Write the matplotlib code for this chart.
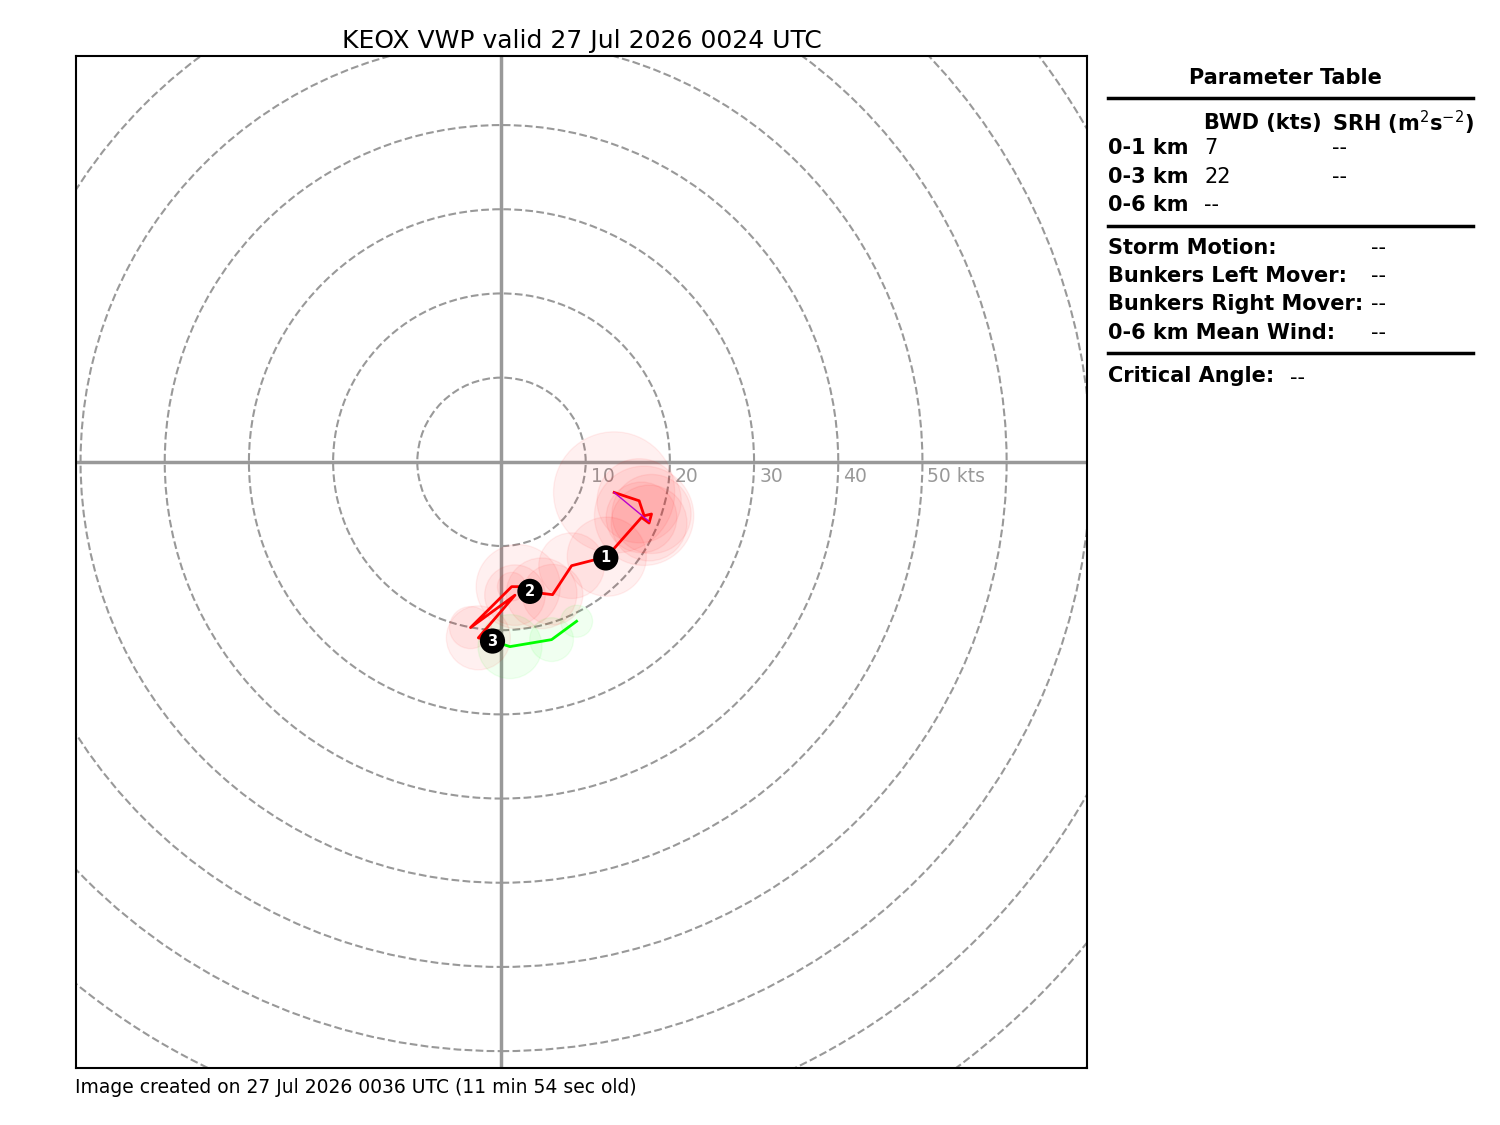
import numpy as np
import matplotlib
matplotlib.use('Agg')
from matplotlib import pyplot as plt
from matplotlib.patches import Circle
from matplotlib.lines import Line2D

# VWP winds (kts), lowest level first, and rms error of each level
red_u = [13.38, 16.35, 16.94, 17.82, 17.53, 16.63, 12.51, 8.33, 6.07, 4.77, 1.99, 1.21, -3.68, 1.60, -2.75, -1.07]
red_v = [-3.64, -4.63, -6.41, -6.20, -7.27, -6.61, -11.27, -12.34, -15.78, -15.62, -14.83, -14.83, -19.69, -15.84, -20.91, -21.29]
red_err = [7.2, 5.0, 5.9, 4.7, 4.5, 4.2, 4.7, 3.9, 3.6, 4.2, 5.0, 1.7, 2.5, 3.6, 3.8, 0.0]
green_u = [-1.07, 1.01, 5.95, 8.92]
green_v = [-21.29, -21.95, -21.12, -18.94]
green_err = [0.0, 3.8, 2.6, 1.9]

# surface-ish segment drawn in magenta
mag_u = [13.38, 17.53]
mag_v = [-3.64, -7.08]

# height markers (km)
mark_hgt = [1, 2, 3]
mark_u = [12.39, 3.38, -1.07]
mark_v = [-11.42, -15.39, -21.29]

rings = list(range(10, 130, 10))
ring_labels = ['10', '20', '30', '40', '50 kts']

title = 'KEOX VWP valid 27 Jul 2026 0024 UTC'
footer = 'Image created on 27 Jul 2026 0036 UTC (11 min 54 sec old)'

bwd_rows = ['0-1 km', '0-3 km', '0-6 km']
bwd_vals = ['7', '22', '--']
srh_vals = ['--', '--', '']
motion_rows = ['Storm Motion:', 'Bunkers Left Mover:', 'Bunkers Right Mover:', '0-6 km Mean Wind:']
motion_vals = ['--', '--', '--', '--']
crit_angle = '--'


def main():
	fig = plt.figure(figsize=(15, 11.25), dpi=100)
	ax = fig.add_axes([0.05, 0.0507, 0.6753, 0.8995])

	#range rings and axes
	for r in rings:
		ax.add_patch(Circle((0, 0), r, fill=False, ec='#999999', ls='--', lw=1.5, zorder=1))
	for r, lab in zip(rings, ring_labels):
		ax.text(r + 0.6, -0.6, lab, color='#999999', fontsize=13.5, ha='left', va='top', zorder=2)
	ax.axhline(0, color='#999999', lw=2.5, zorder=1)
	ax.axvline(0, color='#999999', lw=2.5, zorder=1)

	#error circles
	for u, v, e in zip(red_u, red_v, red_err):
		if e > 0:
			ax.add_patch(Circle((u, v), e, color='r', alpha=0.06, zorder=3))
	for u, v, e in zip(green_u, green_v, green_err):
		if e > 0:
			ax.add_patch(Circle((u, v), e, color='#00ff00', alpha=0.06, zorder=3))

	#hodograph
	ax.plot(red_u, red_v, '-', color='r', lw=2, zorder=4)
	ax.plot(green_u, green_v, '-', color='#00ff00', lw=2, zorder=4)
	ax.plot(mag_u, mag_v, '-', color='#bb00cc', lw=1, zorder=5)

	for h, u, v in zip(mark_hgt, mark_u, mark_v):
		ax.text(u, v, str(h), ha='center', va='center', color='w', fontsize=10.5, weight='bold', zorder=6,
			bbox=dict(facecolor='k', edgecolor='none', boxstyle='circle,pad=0.35'))

	ax.set_xlim(-50.6, 69.6)
	ax.set_ylim(-72.0, 48.2)
	ax.set_aspect('equal')
	ax.set_xticks([])
	ax.set_yticks([])
	for s in ax.spines.values():
		s.set_linewidth(1.5)
	ax.set_title(title, fontsize=18, pad=6)

	fig.text(0.05, 0.033, footer, fontsize=13.5, ha='left', va='center')

	#parameter table
	fs = 15
	x0 = 0.7387
	fig.text(0.8567, 0.9307, 'Parameter Table', fontsize=fs, weight='bold', ha='center', va='center')
	for y in [0.9129, 0.7991, 0.6862]:
		fig.add_artist(Line2D([x0, 0.982], [y, y], color='k', lw=2.5, transform=fig.transFigure))
	fig.text(0.8027, 0.8907, 'BWD (kts)', fontsize=fs, weight='bold', ha='left', va='center')
	fig.text(0.888, 0.8907, r'SRH (m$^2$s$^{-2}$)', fontsize=fs, weight='bold', ha='left', va='center')
	row_y = [0.8684, 0.8427, 0.8178]
	for y, lab, b, s in zip(row_y, bwd_rows, bwd_vals, srh_vals):
		fig.text(x0, y, lab, fontsize=fs, weight='bold', ha='left', va='center')
		fig.text(0.8027, y, b, fontsize=fs, ha='left', va='center')
		fig.text(0.888, y, s, fontsize=fs, ha='left', va='center')
	mot_y = [0.7796, 0.7547, 0.7298, 0.704]
	for y, lab, val in zip(mot_y, motion_rows, motion_vals):
		fig.text(x0, y, lab, fontsize=fs, weight='bold', ha='left', va='center')
		fig.text(0.914, y, val, fontsize=fs, ha='left', va='center')
	fig.text(x0, 0.6658, 'Critical Angle:', fontsize=fs, weight='bold', ha='left', va='center')
	fig.text(0.86, 0.6640, crit_angle, fontsize=fs, ha='left', va='center')

	fig.savefig('out.png', dpi=100)

main()
